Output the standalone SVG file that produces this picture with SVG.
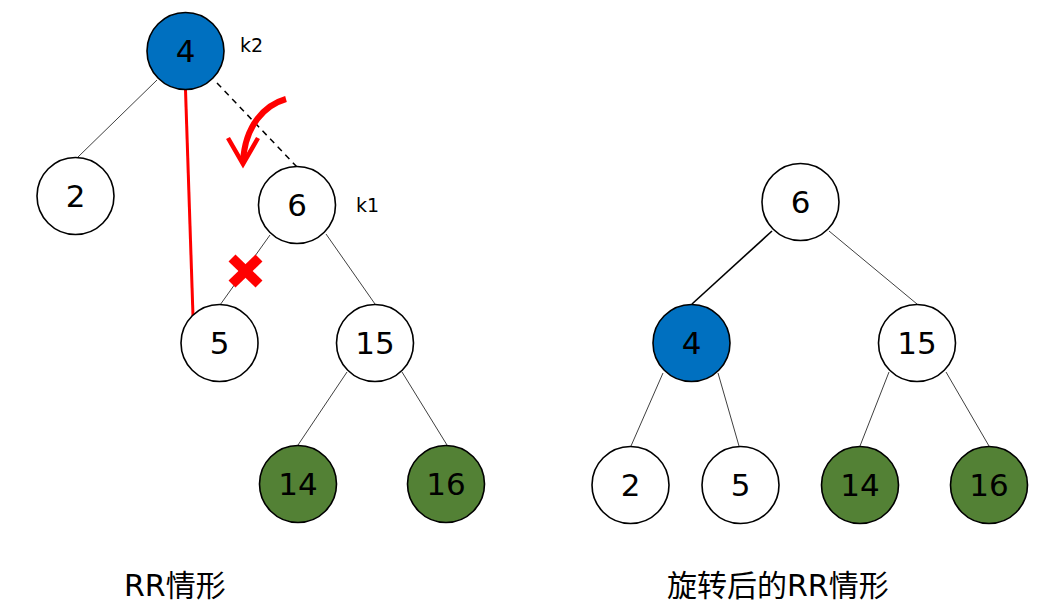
<svg xmlns="http://www.w3.org/2000/svg" width="1054" height="611" viewBox="0 0 1054 611">
<style>
.n{stroke:#000;stroke-width:1.6}
.w{fill:#fff}
.b{fill:#0070C0}
.g{fill:#538135}
.t{font-family:"DejaVu Sans","Noto Sans",sans-serif;font-size:31px;fill:#000;text-anchor:middle}
.k{font-family:"DejaVu Sans","Noto Sans",sans-serif;font-size:19px;fill:#000}
.e{stroke:#404040;stroke-width:1;fill:none}
.cap{font-family:"DejaVu Sans","Noto Sans CJK SC",sans-serif;font-size:30px;fill:#000}
</style>
<rect width="1054" height="611" fill="#fff"/>
<g id="connectors">
<line class="e" x1="157" y1="80" x2="78" y2="157"/>
<line x1="217" y1="83" x2="297" y2="167" stroke="#000" stroke-width="1.5" stroke-dasharray="6,5"/>
<line class="e" x1="270" y1="235" x2="220" y2="305"/>
<line class="e" x1="326" y1="234" x2="375" y2="304"/>
<line class="e" x1="347" y1="372" x2="298" y2="445"/>
<line class="e" x1="402" y1="372" x2="447" y2="445"/>
<line x1="185.5" y1="90" x2="193" y2="316" stroke="#ff0000" stroke-width="3"/>
<line x1="772" y1="231" x2="692" y2="304" stroke="#000" stroke-width="1.6"/>
<line class="e" x1="829" y1="231" x2="917" y2="304"/>
<line class="e" x1="663" y1="373" x2="631" y2="446"/>
<line class="e" x1="718" y1="373" x2="739" y2="446"/>
<line class="e" x1="889" y1="372" x2="860" y2="446"/>
<line class="e" x1="946" y1="372" x2="989" y2="446"/>
</g>
<g id="rotate-arrow" fill="none" stroke="#ff0000" stroke-linecap="butt">
<path d="M 286 99 C 265 105 245 125 243 162" stroke-width="6"/>
<polyline points="228,138 243,164 258,138" stroke-width="4.5"/>
</g>
<g id="cross" stroke="#ff0000" stroke-width="10">
<line x1="232" y1="258" x2="259" y2="284"/>
<line x1="259" y1="258" x2="232" y2="284"/>
</g>
<g id="L4"><circle class="n b" cx="185.5" cy="51" r="38.5"/><text class="t" x="185.5" y="62">4</text></g>
<text class="k" x="240" y="52">k2</text>
<g id="L2"><circle class="n w" cx="75.5" cy="196" r="38.5"/><text class="t" x="75.5" y="207">2</text></g>
<g id="L6"><circle class="n w" cx="297" cy="205" r="38.5"/><text class="t" x="297" y="216">6</text></g>
<text class="k" x="356" y="212">k1</text>
<g id="L5"><circle class="n w" cx="219.5" cy="343" r="38.5"/><text class="t" x="219.5" y="354">5</text></g>
<g id="L15"><circle class="n w" cx="375" cy="343" r="38.5"/><text class="t" x="375" y="354">15</text></g>
<g id="L14"><circle class="n g" cx="298" cy="484" r="38.5"/><text class="t" x="298" y="495">14</text></g>
<g id="L16"><circle class="n g" cx="446" cy="484" r="38.5"/><text class="t" x="446" y="495">16</text></g>
<g id="R6"><circle class="n w" cx="800.5" cy="202" r="38.5"/><text class="t" x="800.5" y="213">6</text></g>
<g id="R4"><circle class="n b" cx="691.5" cy="343" r="38.5"/><text class="t" x="691.5" y="354">4</text></g>
<g id="R15"><circle class="n w" cx="917" cy="343" r="38.5"/><text class="t" x="917" y="354">15</text></g>
<g id="R2"><circle class="n w" cx="630.5" cy="485" r="38.5"/><text class="t" x="630.5" y="496">2</text></g>
<g id="R5"><circle class="n w" cx="740.5" cy="485" r="38.5"/><text class="t" x="740.5" y="496">5</text></g>
<g id="R14"><circle class="n g" cx="860" cy="485" r="38.5"/><text class="t" x="860" y="496">14</text></g>
<g id="R16"><circle class="n g" cx="989" cy="485" r="38.5"/><text class="t" x="989" y="496">16</text></g>
<text class="cap" x="124" y="596">RR情形</text>
<text class="cap" x="667" y="596">旋转后的RR情形</text>
</svg>
